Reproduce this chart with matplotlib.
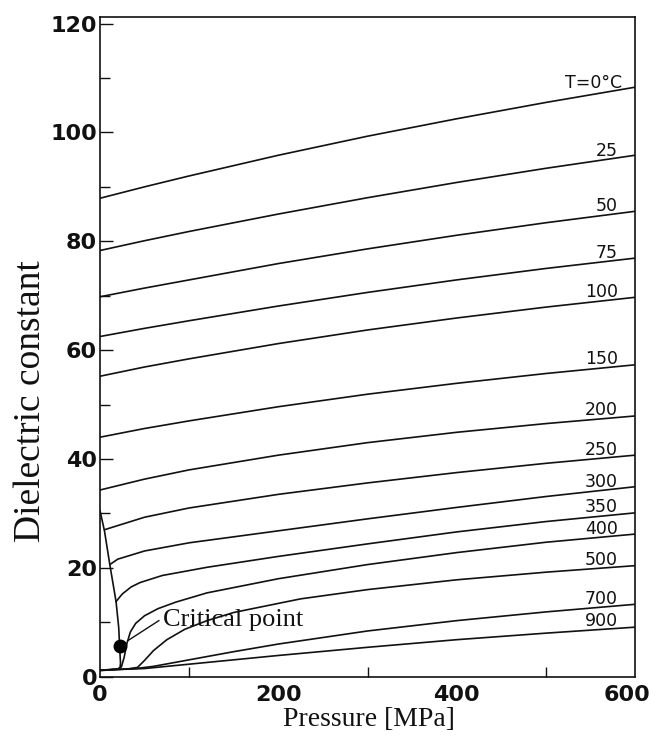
import numpy as np
import matplotlib
matplotlib.use("Agg")
import matplotlib.pyplot as plt
import matplotlib.transforms as mtransforms

# ---------------- data ----------------
P_liq = [0, 50, 100, 200, 300, 400, 500, 600]
eps_T0 = [87.9, 90.0, 92.0, 95.8, 99.3, 102.5, 105.5, 108.3]
eps_T25 = [78.3, 80.1, 81.8, 85.0, 88.0, 90.8, 93.4, 95.8]
eps_T50 = [69.8, 71.4, 72.9, 75.9, 78.6, 81.1, 83.4, 85.5]
eps_T75 = [62.5, 64.0, 65.4, 68.1, 70.6, 72.9, 75.0, 76.9]
eps_T100 = [55.2, 56.9, 58.4, 61.2, 63.7, 65.9, 67.9, 69.7]
eps_T150 = [44.0, 45.6, 47.0, 49.6, 51.9, 53.9, 55.7, 57.3]
eps_T200 = [34.3, 36.3, 38.0, 40.7, 43.0, 44.9, 46.5, 47.9]

P_T250 = [5, 50, 100, 200, 300, 400, 500, 600]
eps_T250 = [27.0, 29.3, 31.0, 33.5, 35.6, 37.5, 39.2, 40.7]

P_T300 = [11, 20, 50, 100, 200, 300, 400, 500, 600]
eps_T300 = [20.6, 21.6, 23.1, 24.6, 26.8, 29.0, 31.1, 33.1, 34.9]

P_T350 = [18, 25, 35, 45, 70, 120, 200, 300, 400, 500, 600]
eps_T350 = [13.8, 15.2, 16.5, 17.3, 18.6, 20.1, 22.1, 24.4, 26.6, 28.5, 30.1]

P_T400 = [0, 20, 24, 27, 30, 34, 40, 50, 65, 85, 120, 200, 300, 400, 500, 600]
eps_T400 = [1.2, 1.4, 1.8, 3.5, 6.0, 8.2, 9.8, 11.2, 12.5, 13.7, 15.4, 18.0, 20.6, 22.8, 24.7, 26.2]

P_T500 = [0, 30, 42, 50, 60, 75, 95, 120, 150, 225, 300, 400, 500, 600]
eps_T500 = [1.2, 1.4, 1.7, 3.0, 4.8, 6.8, 8.7, 10.3, 11.8, 14.3, 16.0, 17.8, 19.2, 20.4]

P_T700 = [0, 40, 60, 80, 100, 150, 200, 300, 400, 500, 600]
eps_T700 = [1.2, 1.5, 1.9, 2.5, 3.1, 4.6, 6.0, 8.4, 10.3, 11.9, 13.3]

P_T900 = [0, 50, 100, 150, 200, 300, 400, 500, 600]
eps_T900 = [1.2, 1.5, 2.3, 3.1, 3.9, 5.4, 6.8, 8.0, 9.1]

# saturation boundary (liquid side down to the critical point, then vapour side)
P_sat_liq = [0, 5, 11, 18, 21, 22]
eps_sat_liq = [30.5, 26.8, 20.6, 13.8, 9.0, 5.6]
P_sat_vap = [22, 23, 22.5, 20, 0]
eps_sat_vap = [5.6, 2.5, 1.7, 1.4, 1.1]

critical_P = 22
critical_eps = 5.6

temperature_labels = ["T=0°C", "25", "50", "75", "100", "150", "200",
                      "250", "300", "350", "400", "500", "700", "900"]

curves = [
    (P_liq, eps_T0), (P_liq, eps_T25), (P_liq, eps_T50), (P_liq, eps_T75),
    (P_liq, eps_T100), (P_liq, eps_T150), (P_liq, eps_T200),
    (P_T250, eps_T250), (P_T300, eps_T300), (P_T350, eps_T350),
    (P_T400, eps_T400), (P_T500, eps_T500), (P_T700, eps_T700),
    (P_T900, eps_T900),
]

x_major = [0, 200, 400, 600]
x_minor = [100, 300, 500]
y_major = [0, 20, 40, 60, 80, 100, 120]
y_minor = [10, 30, 50, 70, 90, 110]

# ---------------- figure ----------------
W, H = 651, 741
fig = plt.figure(figsize=(W / 100, H / 100), dpi=100)
ax = fig.add_axes([100 / W, 1 - 676.7 / H, 535 / W, (676.7 - 17) / H])

line_kw = dict(color="#111111", lw=1.2, solid_capstyle="round")
for (P, e) in curves:
    ax.plot(P, e, **line_kw)

ax.plot(P_sat_liq, eps_sat_liq, **line_kw)
ax.plot(P_sat_vap, eps_sat_vap, **line_kw)
ax.plot([critical_P], [critical_eps], "o", color="black", ms=9)

# curve labels at right end
label_x = 581
for lab, (P, e) in zip(temperature_labels, curves):
    y = np.interp(label_x, P, e)
    xr = label_x + (5 if lab.startswith("T") else 0)
    ax.annotate(lab, (xr, y), xytext=(0, 1.5), textcoords="offset points",
                ha="right", va="baseline", fontsize=12.5,
                family="DejaVu Sans", color="#111111")

# critical point annotation
ax.text(71, 9.3, "Critical point", family="Liberation Serif", fontsize=19,
        ha="left", va="baseline", color="#111111")
ax.plot([66, 31], [10.3, 6.6], color="#111111", lw=1.0)

ax.set_xlim(0, 600)
ax.set_ylim(0, 121.2)
ax.set_xticks(x_major)
ax.set_xticks(x_minor, minor=True)
ax.set_yticks(y_major)
ax.set_yticks(y_minor, minor=True)
ax.tick_params(axis="both", which="both", direction="in", color="#111111")
ax.tick_params(axis="y", which="major", length=9, width=1.0, pad=2)
ax.tick_params(axis="y", which="minor", length=7, width=1.0)
ax.tick_params(axis="x", which="major", length=0, pad=6)
ax.tick_params(axis="x", which="minor", length=7, width=1.0)
for lab in ax.get_xticklabels() + ax.get_yticklabels():
    lab.set_family("DejaVu Sans")
    lab.set_fontweight("bold")
    lab.set_fontsize(16)
    lab.set_color("#111111")
# keep the last x tick label inside the canvas
last = ax.get_xticklabels()[-1]
last.set_transform(last.get_transform() +
                   mtransforms.ScaledTranslation(-8 / 100, 0, fig.dpi_scale_trans))
for s in ax.spines.values():
    s.set_linewidth(1.2)
    s.set_color("#111111")

fig.text(369 / W, 1 - 719 / H, "Pressure [MPa]", family="Liberation Serif",
         fontsize=20, ha="center", va="center", color="#111111")
fig.text(31 / W, 1 - 401 / H, "Dielectric constant", family="Liberation Serif",
         fontsize=27, ha="center", va="center", rotation=90, color="#111111")

fig.savefig("out.png", dpi=100, facecolor="white")
